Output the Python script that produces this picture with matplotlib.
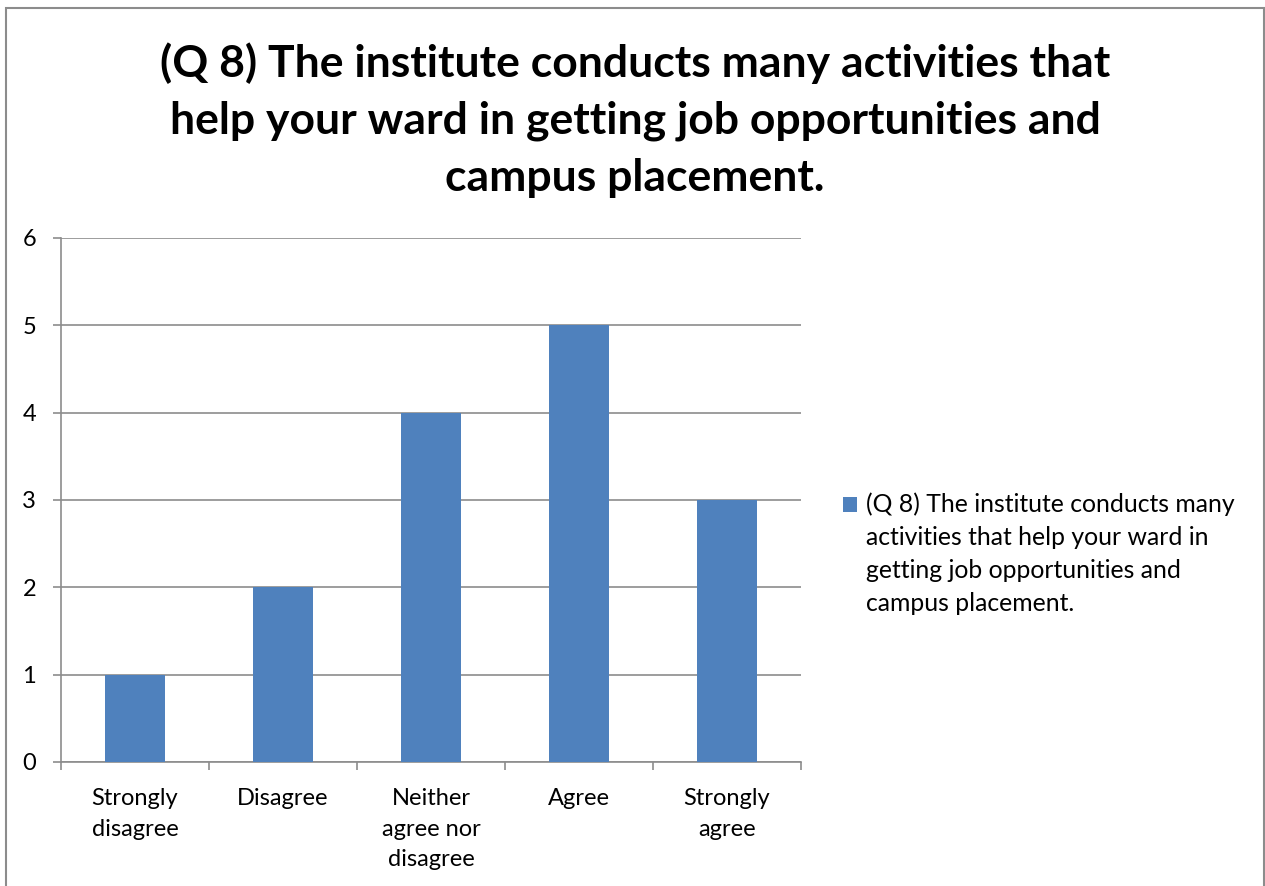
import matplotlib
matplotlib.use("Agg")
import matplotlib.pyplot as plt
from matplotlib.patches import Rectangle
from matplotlib.legend_handler import HandlerPatch
import numpy as np

categories = ["Strongly\ndisagree", "Disagree", "Neither\nagree nor\ndisagree", "Agree", "Strongly\nagree"]
values = [1, 2, 4, 5, 3]
yticks = [0, 1, 2, 3, 4, 5, 6]
series_name = "(Q 8) The institute conducts many\nactivities that help your ward in\ngetting job opportunities and\ncampus placement."
title = "(Q 8) The institute conducts many activities that\nhelp your ward in getting job opportunities and\ncampus placement."

plt.rcParams['font.family'] = ['Lato', 'DejaVu Sans']

fig = plt.figure(figsize=(12.65, 8.86), dpi=100)
fig.patches.append(Rectangle((6/1265, -0.02), (1264-6)/1265, 1.02 - 8/886, transform=fig.transFigure,
                             fill=False, edgecolor="#8c8c8c", linewidth=1.5))

ax = fig.add_axes([61/1265, 1 - 762/886, 740/1265, (762-238)/886])
x = np.arange(len(categories))
bars = ax.bar(x, values, width=0.4, color="#4F81BD", label=series_name, zorder=3)
ax.set_xlim(-0.5, len(categories) - 0.5)
ax.set_ylim(0, 6)
ax.set_yticks(yticks)
ax.set_yticklabels([str(v) for v in yticks], fontsize=17)
ax.set_xticks(x)
ax.set_xticklabels(categories, fontsize=17, linespacing=1.55)
ax.set_xticks(np.arange(-0.5, len(categories)), minor=True)
ax.tick_params(axis='x', which='major', length=0, pad=19)
ax.tick_params(axis='x', which='minor', length=6, color="#8c8c8c", width=1.2)
ax.tick_params(axis='y', length=6, color="#8c8c8c", width=1.2, pad=12)
ax.grid(axis='y', color="#8c8c8c", linewidth=1.2, zorder=0)
for s in ['top', 'right']:
    ax.spines[s].set_visible(False)
for s in ['left', 'bottom']:
    ax.spines[s].set_color("#8c8c8c")
    ax.spines[s].set_linewidth(1.2)

fig.text(0.502, 1 - 120/886, title, ha='center', va='center', fontsize=32,
         fontweight='bold', linespacing=1.5)

SHIFT = 36  # points: align handle with first label line


def make_patch(legend, orig_handle, xdescent, ydescent, width, height, fontsize):
    return Rectangle((-xdescent, -ydescent + SHIFT), width, height)


leg = ax.legend(handles=[bars.patches[0]], labels=[series_name],
                loc='upper left', bbox_to_anchor=(843/1265, 1 - 492/886),
                bbox_transform=fig.transFigure, frameon=False, fontsize=17.8,
                handlelength=0.57, handleheight=0.57, handletextpad=0.36,
                borderpad=0, borderaxespad=0,
                handler_map={Rectangle: HandlerPatch(patch_func=make_patch)})
for t in leg.get_texts():
    t.set_linespacing(1.54)

fig.savefig("out.png", dpi=100)
